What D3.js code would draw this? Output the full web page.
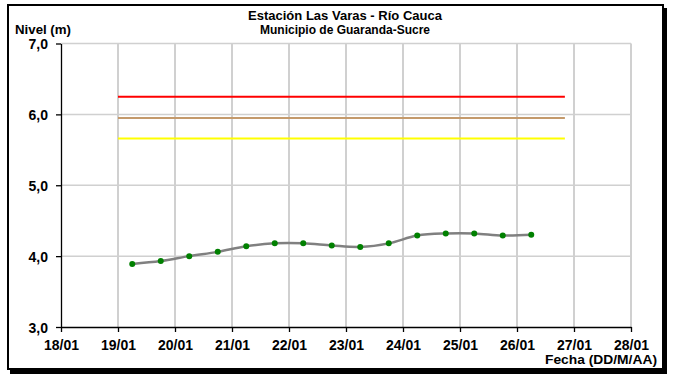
<!DOCTYPE html>
<html><head><meta charset="utf-8">
<script src="https://cdn.jsdelivr.net/npm/d3@7"></script>
<style>body{margin:0;background:#fff}svg{display:block;font-family:"Liberation Sans",Arial,sans-serif}</style>
</head><body><svg id="c" width="674" height="377"></svg>
<script>
// Data
const times = [19.25,19.75,20.25,20.75,21.25,21.75,22.25,22.75,23.25,23.75,24.25,24.75,25.25,25.75,26.25];
const levels = [3.89,3.93,4.00,4.06,4.14,4.18,4.18,4.15,4.13,4.18,4.29,4.32,4.32,4.29,4.30];
const thresholdNames = ["rojo","naranja","amarillo"];
const thresholdValues = [6.25,5.95,5.66];
const thresholdColors = ["#ff0000","#c49a6c","#ffff00"];
const thresholdStart = 19.0, thresholdEnd = 26.84;
const xTicks = [18,19,20,21,22,23,24,25,26,27,28];
const xTickLabels = ["18/01","19/01","20/01","21/01","22/01","23/01","24/01","25/01","26/01","27/01","28/01"];
const yTicks = [3,4,5,6,7];
const yTickLabels = ["3,0","4,0","5,0","6,0","7,0"];
const titleLines = ["Estación Las Varas - Río Cauca","Municipio de Guaranda-Sucre"];

const svg = d3.select("#c");
const L=61, R=631, T=43.5, B=327;
const x = d3.scaleLinear().domain([18,28]).range([L,R]);
const y = d3.scaleLinear().domain([3,7]).range([B,T]);

// frame
svg.append("rect").attr("x",10).attr("y",8).attr("width",657).attr("height",366).attr("fill","#000");
svg.append("rect").attr("x",8).attr("y",5).attr("width",655).attr("height",364).attr("fill","#fff").attr("stroke","#000").attr("stroke-width",2);

// grid
const g = svg.append("g");
g.selectAll(".vg").data(xTicks.slice(1)).join("line")
  .attr("x1",d=>x(d)).attr("x2",d=>x(d)).attr("y1",T).attr("y2",B)
  .attr("stroke","#c0c0c0").attr("stroke-width",1.5);
g.selectAll(".hg").data(yTicks.slice(1)).join("line")
  .attr("x1",L).attr("x2",R).attr("y1",d=>y(d)).attr("y2",d=>y(d))
  .attr("stroke","#d0d0d0").attr("stroke-width",1.5);

// axes
const xAxis = d3.axisBottom(x).tickValues(xTicks).tickFormat((d,i)=>xTickLabels[i]).tickSizeInner(5).tickSizeOuter(0).tickPadding(8);
const yAxis = d3.axisLeft(y).tickValues(yTicks).tickFormat((d,i)=>yTickLabels[i]).tickSizeInner(5).tickSizeOuter(0).tickPadding(8);
const xa = svg.append("g").attr("transform",`translate(0,${B})`).call(xAxis);
const ya = svg.append("g").attr("transform",`translate(${L},0)`).call(yAxis);
[xa,ya].forEach(a=>{
  a.selectAll("path,line").attr("stroke","#000").attr("stroke-width",1.3);
  a.selectAll("text").attr("fill","#000").attr("font-size",14).attr("font-weight","bold")
   .attr("font-family","'Liberation Sans',Arial,sans-serif");
});
ya.selectAll("text").attr("dy","0.36em");

// thresholds
svg.selectAll(".th").data(thresholdValues).join("line")
  .attr("x1",x(thresholdStart)).attr("x2",x(thresholdEnd))
  .attr("y1",d=>y(d)).attr("y2",d=>y(d))
  .attr("stroke",(d,i)=>thresholdColors[i]).attr("stroke-width",2);

// series
const pts = times.map((t,i)=>[t,levels[i]]);
svg.append("path").datum(pts)
  .attr("d",d3.line().x(d=>x(d[0])).y(d=>y(d[1])).curve(d3.curveCatmullRom.alpha(0.5)))
  .attr("fill","none").attr("stroke","#808080").attr("stroke-width",2.5);
svg.selectAll(".pt").data(pts).join("circle")
  .attr("cx",d=>x(d[0])).attr("cy",d=>y(d[1])).attr("r",3).attr("fill","#008000");

// titles
const txt = (s,xp,yp,anchor,len,fs)=>{
  const t = svg.append("text").attr("x",xp).attr("y",yp).attr("text-anchor",anchor)
    .attr("font-size",fs||12.5).attr("font-weight","bold").text(s);
  if (len) t.attr("textLength",len).attr("lengthAdjust","spacingAndGlyphs");
  return t;
};
txt(titleLines[0],345,20,"middle",194,12.5);
txt(titleLines[1],345,34,"middle",170,12.5);
txt("Nivel (m)",15,34,"start",56);
txt("Fecha (DD/M/AA)",657,364,"end",112);
</script></body></html>
